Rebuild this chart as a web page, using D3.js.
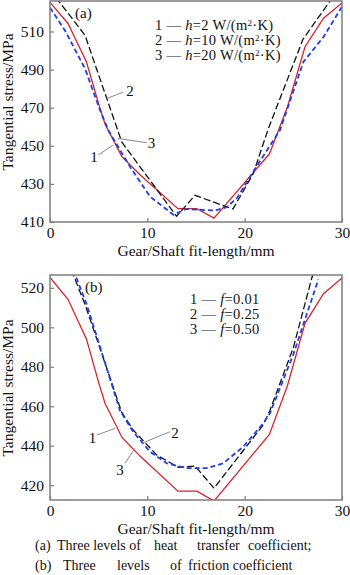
<!DOCTYPE html>
<html>
<head>
<meta charset="utf-8">
<script src="https://cdn.jsdelivr.net/npm/d3@7"></script>
<style>
    body { margin: 0; background: #fff; }
</style>
</head>
<body>
<div id="chart"></div>
<script>

// values (x = fit-length in mm, y = tangential stress in MPa)
// curve 1 is the same base case in both panels
const curve1X = [0, 1.85, 3.75, 5.0, 5.65, 7.4, 9.3, 13.15, 15.1, 16.85, 22.55, 24.4, 26.2, 28.1, 30];
const curve1Y = [525.3, 514.2, 494, 472, 461.5, 444.2, 434.5, 417, 417, 412, 445.8, 470.5, 502, 517, 525];

// panel (a), h = 10 and h = 20
const h10X = [0, 0.86, 3.6, 7.37, 13.0, 14.9, 18.8, 20.9, 22.43, 26.0, 28.77, 30];
const h10Y = [532, 526.2, 508, 452, 413, 424, 416.8, 435.6, 459, 506, 526, 535];
const h20X = [0, 1.54, 3.6, 5.14, 5.99, 8.22, 10.27, 12.67, 14.0, 16.95, 18.15, 19.2, 21.2, 23.63, 26.03, 28.08, 30];
const h20Y = [522.5, 510.5, 490.5, 468.7, 458.2, 439, 423.4, 413.8, 416.8, 416, 417.8, 422.5, 439, 458.2, 494, 507, 523];

// panel (b), f = 0.25 and f = 0.50
const f25X = [2.2, 3.6, 7.37, 8.56, 10.96, 13.18, 14.9, 16.85, 21.9, 22.6, 25.0, 26.9, 27.1];
const f25Y = [529, 511.6, 456.9, 447.9, 435.3, 429.1, 429.7, 418.5, 450.5, 458, 489.7, 525, 528];
const f50X = [2.4, 3.77, 7.2, 8.56, 10.27, 11.99, 14.04, 16.1, 17.8, 19.86, 21.9, 22.6, 25.0, 27.57];
const f50Y = [529, 511.6, 457.7, 447, 437, 431.1, 428.6, 428.6, 431.1, 439.5, 451.3, 456.4, 486.3, 524.2];

const xTicks = [0, 10, 20, 30];
const yTicksA = [410, 430, 450, 470, 490, 510];
const yTicksB = [420, 440, 460, 480, 500, 520];

const legendA = [
    ["1 — ", "h", "=2 W/(m", "2", "·K)"],
    ["2 — ", "h", "=10 W/(m", "2", "·K)"],
    ["3 — ", "h", "=20 W/(m", "2", "·K)"]
];
const legendB = [
    ["1 — ", "f", "=0.01"],
    ["2 — ", "f", "=0.25"],
    ["3 — ", "f", "=0.50"]
];

// curve number labels with their leader lines, in data units
const notesA = [
    {label: "2", at: [8.22, 479.0], from: [5.83, 474.8], to: [7.53, 478.2]},
    {label: "3", at: [10.43, 451.4], from: [7.02, 453.8], to: [9.94, 451.6]},
    {label: "1", at: [4.52, 444.2], from: [4.96, 445.2], to: [6.5, 450.4]}
];
const notesB = [
    {label: "1", at: [4.37, 443.9], from: [4.8, 445.4], to: [6.68, 448.8]},
    {label: "2", at: [12.84, 446.4], from: [9.42, 441.2], to: [12.33, 447.1]},
    {label: "3", at: [7.19, 427.7], from: [7.71, 431.1], to: [8.73, 438.7]}
];

const styles = {
    red:   {stroke: "#d8232a", width: 1.3, dash: null},
    black: {stroke: "#111", width: 1.3, dash: "7,3"},
    blue:  {stroke: "#1d3df2", width: 1.8, dash: "5,3"}
};

const SERIF = '"Liberation Serif", "Times New Roman", Times, "DejaVu Serif", serif';

function zipXY(xs, ys) {
    return xs.map((x, i) => ({x: x, y: ys[i]}));
}

// every text gets the serif font inline so nothing falls back to sans
function serif(sel, size) {
    return sel.style("font-family", SERIF).style("font-size", size + "px").style("fill", "#111");
}


class PanelVis {

    constructor(svg, id, config) {
        this.svg = svg;
        this.id = id;
        this.config = config;
        this.initVis();
    }

    initVis() {
        let vis = this;
        let c = vis.config;

        vis.left = 50;
        vis.right = 342;

        vis.g = vis.svg.append("g").attr("class", "panel-" + vis.id);

        vis.x = d3.scaleLinear().domain([0, 30]).range([vis.left, vis.right]);
        vis.y = d3.scaleLinear().domain(c.yDomain).range([c.bottom, c.top]);

        vis.g.append("clipPath").attr("id", "clip-" + vis.id)
            .append("rect")
            .attr("x", vis.left).attr("y", c.top)
            .attr("width", vis.right - vis.left).attr("height", c.bottom - c.top);

        // axes, ticks point inwards
        let xAxis = d3.axisBottom(vis.x).tickValues(xTicks).tickSize(-4).tickPadding(5);
        let yAxis = d3.axisLeft(vis.y).tickValues(c.yTicks).tickSize(-4).tickPadding(6);

        let gx = vis.g.append("g").attr("transform", `translate(0,${c.bottom})`).call(xAxis);
        let gy = vis.g.append("g").attr("transform", `translate(${vis.left},0)`).call(yAxis);
        [gx, gy].forEach(a => {
            a.attr("font-family", null).attr("font-size", null);
            a.select(".domain").remove();
            a.selectAll(".tick line").attr("stroke", "#7d7d7d").attr("stroke-width", 1.2);
            serif(a.selectAll(".tick text"), 15.5);
        });

        // lines
        vis.line = d3.line().x(d => vis.x(d.x)).y(d => vis.y(d.y));
        let lines = vis.g.append("g").attr("clip-path", `url(#clip-${vis.id})`);
        c.series.forEach(s => {
            let st = styles[s.style];
            lines.append("path")
                .datum(zipXY(s.xs, s.ys))
                .attr("d", vis.line)
                .attr("fill", "none")
                .attr("stroke", st.stroke)
                .attr("stroke-width", st.width)
                .attr("stroke-dasharray", st.dash);
        });

        // frame
        vis.g.append("rect")
            .attr("x", vis.left).attr("y", c.top)
            .attr("width", vis.right - vis.left).attr("height", c.bottom - c.top)
            .attr("fill", "none").attr("stroke", "#7d7d7d").attr("stroke-width", 1.5);

        // titles
        serif(vis.g.append("text"), 15.5)
            .attr("x", (vis.left + vis.right) / 2).attr("y", c.bottom + 34)
            .attr("text-anchor", "middle")
            .text("Gear/Shaft fit-length/mm");

        serif(vis.g.append("text"), 15.5)
            .attr("transform", `translate(13,${c.yTitleMid}) rotate(-90)`)
            .attr("text-anchor", "middle")
            .text("Tangential stress/MPa");

        serif(vis.g.append("text"), 15)
            .attr("x", c.tagX).attr("y", c.top + 17)
            .text(c.tag);

        // legend
        let leg = vis.g.append("g");
        c.legend.forEach((parts, i) => {
            let t = serif(leg.append("text"), 14.5)
                .attr("x", c.legendX).attr("y", c.top + 29 + i * 15)
                .style("letter-spacing", "0.3px");
            t.append("tspan").text(parts[0]);
            t.append("tspan").style("font-style", "italic").text(parts[1]);
            t.append("tspan").text(parts[2]);
            if (parts.length > 3) {
                t.append("tspan").style("font-size", "9px").attr("dy", -4).text(parts[3]);
                t.append("tspan").attr("dy", 4).text(parts[4]);
            }
        });

        // curve labels
        c.notes.forEach(n => {
            vis.g.append("line")
                .attr("x1", vis.x(n.from[0])).attr("y1", vis.y(n.from[1]))
                .attr("x2", vis.x(n.to[0])).attr("y2", vis.y(n.to[1]))
                .attr("stroke", "#8a8a8a").attr("stroke-width", 1);
            serif(vis.g.append("text"), 15)
                .attr("x", vis.x(n.at[0])).attr("y", vis.y(n.at[1]))
                .attr("dy", "0.35em")
                .attr("text-anchor", "middle")
                .text(n.label);
        });
    }
}


let svg = d3.select("#chart").append("svg")
    .attr("width", 350)
    .attr("height", 575);

new PanelVis(svg, "a", {
    top: 1, bottom: 222, yDomain: [410, 526], yTicks: yTicksA, yTitleMid: 102,
    tag: "(a)", tagX: 75, legend: legendA, legendX: 155, notes: notesA,
    series: [
        {xs: curve1X, ys: curve1Y, style: "red"},
        {xs: h10X, ys: h10Y, style: "black"},
        {xs: h20X, ys: h20Y, style: "blue"}
    ]
});

new PanelVis(svg, "b", {
    top: 275, bottom: 500, yDomain: [412.5, 526.5], yTicks: yTicksB, yTitleMid: 388,
    tag: "(b)", tagX: 85, legend: legendB, legendX: 190, notes: notesB,
    series: [
        {xs: curve1X, ys: curve1Y, style: "red"},
        {xs: f25X, ys: f25Y, style: "black"},
        {xs: f50X, ys: f50Y, style: "blue"}
    ]
});

// caption, words spread out like in the source
const captionA = [["(a)", 35], ["Three levels of", 57], ["heat", 154], ["transfer", 197], ["coefficient;", 248]];
const captionB = [["(b)", 35], ["Three", 63], ["levels", 117], ["of", 170], ["friction coefficient", 188]];

[[captionA, 550], [captionB, 570]].forEach(([words, yy]) => {
    let t = serif(svg.append("text"), 14).attr("y", yy);
    words.forEach(w => t.append("tspan").attr("x", w[1]).text(w[0]));
});

</script>
</body>
</html>
